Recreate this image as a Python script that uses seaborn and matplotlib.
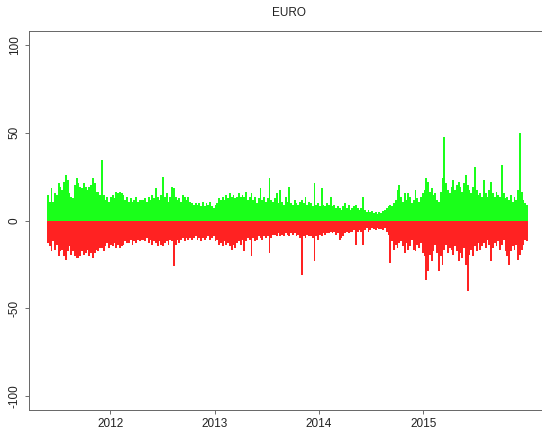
import pandas as pd
import matplotlib
matplotlib.use("Agg")
import matplotlib.pyplot as plt
import matplotlib.dates as mdates
import seaborn as sns

# --- data (roughly one bar per week) ---
# upward (green) bars, mid 2011 -> end 2015
gains_2011 = [14.6, 10.8, 18.4, 10.8, 15.5, 14.6, 21.2, 19.3, 17.4, 22.2,
              25.9, 23.1, 15.5, 13.6, 12.7, 20.3, 24.1, 21.2, 19.3, 18.4,
              21.2, 19.3, 17.4, 19.3, 20.3, 24.4, 21.2, 16.5, 16.5, 14.6,
              34.5, 14.6, 11.7, 13.6, 10.8, 13.6, 14.6, 12.7, 16.5, 15.5,
              16.5, 15.5, 14.6, 11.7, 13.6, 10.8, 12.7, 10.8, 11.7, 13.6,
              10.8, 11.7, 11.7]
gains_2012 = [11.7, 12.7, 10.8, 13.6, 11.7, 14.6, 12.7, 18.4, 13.6, 11.7,
              14.6, 25.0, 13.6, 15.5, 10.8, 13.6, 19.3, 18.4, 13.6, 11.7,
              12.7, 10.8, 14.6, 13.6, 11.7, 13.6, 10.8, 9.8, 8.9, 9.8,
              8.9, 9.8, 8.0, 10.8, 8.0, 9.8, 8.9, 10.8, 8.0, 7.0,
              8.9, 9.8, 12.7, 11.7, 13.6, 11.7, 14.6, 12.7, 15.5, 13.6,
              14.6, 12.7, 13.6, 15.5, 13.6, 14.6]
gains_2013 = [13.6, 16.5, 11.7, 13.6, 15.5, 11.7, 13.6, 9.8, 12.7, 18.4,
              11.7, 13.6, 10.8, 12.7, 24.1, 11.7, 10.8, 12.7, 15.5, 9.8,
              17.4, 10.8, 8.9, 13.6, 10.8, 19.3, 9.8, 8.9, 11.7, 9.8,
              8.9, 10.8, 11.7, 9.8, 13.6, 8.9, 10.8, 9.8, 8.0, 21.2,
              8.9, 9.8, 8.0, 18.4, 8.9, 8.0, 9.8, 8.9, 13.6, 8.0,
              8.9, 7.0, 8.0, 7.0]
gains_2014 = [6.1, 8.0, 9.8, 7.0, 8.9, 6.1, 7.0, 8.0, 8.9, 7.0,
              6.1, 7.0, 13.6, 6.1, 5.1, 6.1, 4.7, 5.5, 4.2, 4.7,
              3.6, 4.7, 4.2, 5.5, 6.1, 7.0, 8.0, 8.9, 8.0, 9.8,
              11.7, 17.4, 20.3, 13.6, 10.8, 15.5, 11.7, 15.5, 13.6, 9.8,
              11.7, 17.4, 12.7, 10.8, 13.6, 15.5, 17.4, 24.1, 22.2, 16.5,
              18.4, 14.6, 15.5, 11.7]
gains_2015 = [10.8, 16.5, 24.1, 47.7, 21.2, 17.4, 15.5, 19.3, 23.1, 17.4,
              20.3, 22.2, 19.3, 16.5, 21.2, 25.9, 20.3, 17.4, 15.5, 19.3,
              30.7, 17.4, 14.6, 15.5, 13.6, 23.1, 15.5, 13.6, 17.4, 22.2,
              15.5, 13.6, 16.5, 14.6, 13.6, 31.6, 15.5, 12.7, 13.6, 11.7,
              14.6, 10.8, 13.6, 11.7, 17.4, 49.6, 16.5, 11.7, 9.8, 8.9]

# downward (red) bars, same weeks, as magnitudes
losses_2011 = [12.9, 14.8, 17.6, 11.9, 16.7, 13.8, 20.5, 17.6, 16.7, 20.5,
               22.3, 17.6, 14.8, 19.5, 17.6, 20.5, 21.4, 21.4, 20.5, 17.6,
               19.5, 18.6, 16.7, 20.5, 18.6, 21.4, 18.6, 16.7, 17.6, 15.7,
               15.7, 17.6, 14.8, 12.9, 15.7, 13.8, 14.8, 12.9, 15.7, 13.8,
               15.7, 14.8, 13.8, 11.9, 12.9, 12.9, 11.0, 13.8, 11.9, 12.9,
               11.0, 11.9, 11.0]
losses_2012 = [11.0, 11.9, 10.0, 12.9, 11.0, 13.8, 11.9, 12.9, 14.8, 11.9,
               13.8, 14.8, 12.9, 11.9, 13.8, 11.0, 11.9, 26.1, 13.8, 11.0,
               12.9, 11.0, 10.0, 11.9, 10.0, 11.0, 10.0, 11.0, 10.0, 9.1,
               11.0, 10.0, 11.9, 10.0, 11.0, 10.0, 9.1, 11.0, 10.0, 9.1,
               11.9, 11.0, 13.8, 12.9, 14.8, 11.9, 13.8, 12.9, 14.8, 16.7,
               13.8, 15.7, 12.9, 11.9, 13.8, 11.0]
losses_2013 = [17.6, 11.9, 10.0, 11.0, 20.5, 10.0, 11.9, 11.0, 9.1, 10.0,
               11.0, 9.1, 10.0, 9.1, 18.6, 10.0, 8.1, 8.1, 9.1, 7.2,
               9.1, 8.1, 9.1, 7.2, 8.1, 9.1, 7.2, 8.1, 7.2, 9.1,
               8.1, 10.0, 30.9, 9.1, 10.0, 8.1, 9.1, 9.1, 10.0, 23.3,
               9.1, 11.0, 8.1, 9.1, 7.2, 8.1, 7.2, 7.2, 6.3, 7.2,
               6.3, 8.1, 7.2, 11.0]
losses_2014 = [10.0, 9.1, 7.2, 6.3, 7.2, 6.3, 6.3, 5.3, 13.8, 6.3,
               5.3, 6.3, 13.8, 5.3, 4.4, 6.3, 5.3, 4.4, 4.7, 5.3,
               4.4, 4.7, 4.7, 5.3, 4.4, 6.3, 8.1, 24.2, 11.9, 16.7,
               13.8, 15.7, 12.9, 11.9, 14.8, 18.6, 12.9, 16.7, 14.8, 11.0,
               16.7, 17.6, 13.8, 15.7, 12.9, 18.6, 20.5, 33.7, 29.0, 19.5,
               23.3, 17.6, 13.8, 18.6]
losses_2015 = [29.0, 20.5, 25.2, 16.7, 13.8, 18.6, 15.7, 16.7, 19.5, 14.8,
               17.6, 23.3, 18.6, 21.4, 15.7, 25.2, 40.0, 19.5, 16.7, 20.5,
               14.8, 17.6, 12.9, 16.7, 14.8, 12.9, 15.7, 11.0, 13.8, 23.3,
               15.7, 12.9, 14.8, 11.9, 16.7, 13.8, 11.0, 17.6, 20.5, 25.2,
               17.6, 14.8, 16.7, 13.8, 22.3, 19.5, 16.7, 13.8, 11.0, 11.9]

first_day = "2011-05-28"
last_day = "2015-12-31"
year_labels = ["2012", "2013", "2014", "2015"]
y_ticks = [-100, -50, 0, 50, 100]

gains = gains_2011 + gains_2012 + gains_2013 + gains_2014 + gains_2015
losses = losses_2011 + losses_2012 + losses_2013 + losses_2014 + losses_2015

dates = pd.date_range(first_day, last_day, periods=len(gains))
df = pd.DataFrame({
    "t": mdates.date2num(dates),
    "gain": gains,
    "loss": [-v for v in losses],
})

# --- plotting ---
sns.set_style("white")
plt.rcParams["font.family"] = ["Liberation Sans", "DejaVu Sans"]

fig = plt.figure(figsize=(5.42, 4.30), dpi=100)
ax = fig.add_axes([29 / 542, 20 / 430, (548 - 29) / 542, (410 - 31) / 430])

sns.barplot(data=df, x="t", y="gain", native_scale=True, color="#1aff1a",
            saturation=1, width=1.0, linewidth=0, errorbar=None, ax=ax)
sns.barplot(data=df, x="t", y="loss", native_scale=True, color="#ff2222",
            saturation=1, width=1.0, linewidth=0, errorbar=None, ax=ax)

ax.set_xlim(mdates.date2num(pd.Timestamp("2011-03-23")),
            mdates.date2num(pd.Timestamp("2016-03-13")))
ax.set_ylim(-108, 108)
ax.set_xticks(mdates.date2num(pd.to_datetime([y + "-01-01" for y in year_labels])))
ax.set_xticklabels(year_labels)
ax.set_yticks(y_ticks)
ax.set_yticklabels([str(v) for v in y_ticks], rotation=90, va="center")
ax.set_xlabel("")
ax.set_ylabel("")

ax.tick_params(bottom=True, left=True, direction="out", length=3, width=0.6,
               color="#555555", labelsize=8.5, labelcolor="#222222", pad=3)
for side in ["top", "left", "bottom"]:
    ax.spines[side].set_color("#666666")
    ax.spines[side].set_linewidth(0.7)
ax.spines["right"].set_visible(False)

ax.set_title("EURO", fontsize=8.5, color="#222222", pad=11)

fig.savefig("out.png", dpi=100)
